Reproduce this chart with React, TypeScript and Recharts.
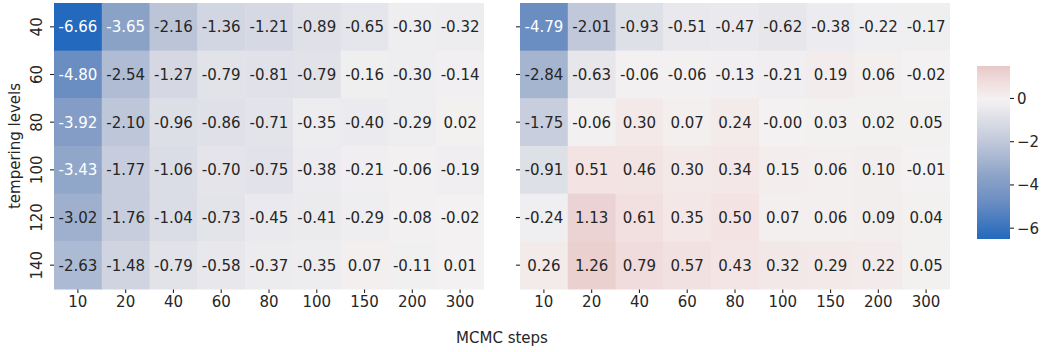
import React from "react"
import {
  ComposedChart,
  ReferenceArea,
  Scatter,
  ScatterChart,
  XAxis,
  YAxis,
} from "recharts"

const steps = ["10", "20", "40", "60", "80", "100", "150", "200", "300"]
const levels = ["40", "60", "80", "100", "120", "140"]

const leftValues = [
  [-6.66, -3.65, -2.16, -1.36, -1.21, -0.89, -0.65, -0.3, -0.32],
  [-4.8, -2.54, -1.27, -0.79, -0.81, -0.79, -0.16, -0.3, -0.14],
  [-3.92, -2.1, -0.96, -0.86, -0.71, -0.35, -0.4, -0.29, 0.02],
  [-3.43, -1.77, -1.06, -0.7, -0.75, -0.38, -0.21, -0.06, -0.19],
  [-3.02, -1.76, -1.04, -0.73, -0.45, -0.41, -0.29, -0.08, -0.02],
  [-2.63, -1.48, -0.79, -0.58, -0.37, -0.35, 0.07, -0.11, 0.01],
]

const rightValues = [
  [-4.79, -2.01, -0.93, -0.51, -0.47, -0.62, -0.38, -0.22, -0.17],
  [-2.84, -0.63, -0.06, -0.06, -0.13, -0.21, 0.19, 0.06, -0.02],
  [-1.75, -0.06, 0.3, 0.07, 0.24, -0.004, 0.03, 0.02, 0.05],
  [-0.91, 0.51, 0.46, 0.3, 0.34, 0.15, 0.06, 0.1, -0.01],
  [-0.24, 1.13, 0.61, 0.35, 0.5, 0.07, 0.06, 0.09, 0.04],
  [0.26, 1.26, 0.79, 0.57, 0.43, 0.32, 0.29, 0.22, 0.05],
]

const colorbarTicks = [-6, -4, -2, 0]
const V_MIN = -6.5
const V_MAX = 1.5

// observed colour stops of the diverging map (value, hex)
const colorStops: [number, string][] = [
  [-6.5, "#2369bd"],
  [-4.8, "#6a8dc2"],
  [-3.5, "#8fa5c8"],
  [-2.1, "#bec6d9"],
  [-1.0, "#dcdee6"],
  [-0.3, "#eeedf0"],
  [0, "#f3f1f1"],
  [0.5, "#f3e3e3"],
  [1.26, "#ebd0d0"],
  [1.5, "#e7c6c6"],
]

const TEXT = "#262626"
const FONT = 15

const hexToRgb = (h: string) => [1, 3, 5].map((i) => parseInt(h.slice(i, i + 2), 16))

function colorFor(v: number) {
  const c = Math.max(V_MIN, Math.min(V_MAX, v))
  for (let i = 0; i < colorStops.length - 1; i++) {
    const [v0, h0] = colorStops[i]
    const [v1, h1] = colorStops[i + 1]
    if (c >= v0 && c <= v1) {
      const t = (c - v0) / (v1 - v0)
      const a = hexToRgb(h0)
      const b = hexToRgb(h1)
      const m = a.map((x, k) => Math.round(x + (b[k] - x) * t))
      return `rgb(${m[0]},${m[1]},${m[2]})`
    }
  }
  return colorStops[colorStops.length - 1][1]
}

const toCells = (values: number[][]) =>
  values.flatMap((row, r) => row.map((value, c) => ({ col: c, row: r, value })))

const CHART_H = 352
const Y_AXIS_W = 54
const PLOT_W = 430
const MARGIN = { top: 3, right: 0, left: 0, bottom: 0 }
const X_AXIS_H = 63
const PLOT_H = CHART_H - MARGIN.top - X_AXIS_H
const CELL_W = PLOT_W / steps.length
const CELL_H = PLOT_H / levels.length

function CellShape(props: any) {
  const { cx, cy, payload } = props
  const v: number = payload.value
  return (
    <g>
      <rect
        x={cx - CELL_W / 2}
        y={cy - CELL_H / 2}
        width={CELL_W + 0.5}
        height={CELL_H + 0.5}
        fill={colorFor(v)}
      />
      <text
        x={cx}
        y={cy}
        dy="0.36em"
        textAnchor="middle"
        fontSize={FONT}
        fill={v < -3.2 ? "#ffffff" : TEXT}
      >
        {v.toFixed(2)}
      </text>
    </g>
  )
}

function YTick(props: any) {
  const { x, y, payload } = props
  return (
    <text
      x={0}
      y={0}
      dy="0.36em"
      textAnchor="middle"
      fontSize={FONT}
      fill={TEXT}
      transform={`translate(${x - 11}, ${y}) rotate(-90)`}
    >
      {levels[payload.value]}
    </text>
  )
}

function Heatmap({ values, showLabels }: { values: number[][]; showLabels: boolean }) {
  return (
    <ScatterChart width={Y_AXIS_W + PLOT_W} height={CHART_H} margin={MARGIN}>
      <XAxis
        type="number"
        dataKey="col"
        domain={[-0.5, steps.length - 0.5]}
        ticks={steps.map((_, i) => i)}
        tickFormatter={(i) => steps[i]}
        height={X_AXIS_H}
        axisLine={false}
        tickSize={4}
        tickMargin={3}
        tickLine={{ stroke: TEXT, strokeWidth: 1.1 }}
        tick={{ fontSize: FONT, fill: TEXT }}
        interval={0}
      />
      <YAxis
        type="number"
        dataKey="row"
        reversed
        domain={[-0.5, levels.length - 0.5]}
        ticks={levels.map((_, i) => i)}
        width={Y_AXIS_W}
        axisLine={false}
        tickSize={4}
        tickLine={{ stroke: TEXT, strokeWidth: 1.1 }}
        tick={showLabels ? <YTick /> : () => <g />}
        interval={0}
        label={
          showLabels
            ? {
                content: (p: any) => (
                  <text
                    x={0}
                    y={0}
                    dy="0.36em"
                    textAnchor="middle"
                    fontSize={FONT}
                    fill={TEXT}
                    transform={`translate(15, ${p.viewBox.y + p.viewBox.height / 2}) rotate(-90)`}
                  >
                    tempering levels
                  </text>
                ),
              }
            : undefined
        }
      />
      <Scatter data={toCells(values)} shape={<CellShape />} isAnimationActive={false} />
    </ScatterChart>
  )
}

const gradientStops = Array.from({ length: 33 }, (_, i) => {
  const v = V_MAX - ((V_MAX - V_MIN) * i) / 32
  return { offset: i / 32, color: colorFor(v) }
})

function Colorbar() {
  return (
    <ComposedChart
      width={83}
      height={CHART_H}
      margin={{ top: 66, right: 0, left: 17, bottom: 113 }}
      data={[{ x: 0 }, { x: 1 }]}
    >
      <defs>
        <linearGradient id="cbar" x1="0" y1="0" x2="0" y2="1">
          {gradientStops.map((s, i) => (
            <stop key={i} offset={s.offset} stopColor={s.color} />
          ))}
        </linearGradient>
      </defs>
      <XAxis type="number" dataKey="x" domain={[0, 1]} hide />
      <YAxis
        type="number"
        orientation="right"
        domain={[V_MIN, V_MAX]}
        ticks={colorbarTicks}
        width={33}
        axisLine={false}
        tickSize={4}
        tickMargin={3}
        tickLine={{ stroke: TEXT, strokeWidth: 1.1 }}
        tick={{ fontSize: FONT, fill: TEXT }}
        tickFormatter={(v) => (v < 0 ? `\u2212${Math.abs(v)}` : `${v}`)}
        allowDataOverflow
      />
      <ReferenceArea x1={0} x2={1} y1={V_MIN} y2={V_MAX} fill="url(#cbar)" fillOpacity={1} stroke="none" />
    </ComposedChart>
  )
}

export default function App() {
  return (
    <div
      style={{
        position: "absolute",
        left: 0,
        top: 0,
        width: 1043,
        height: 352,
        background: "#ffffff",
        fontFamily: "'DejaVu Sans', sans-serif",
      }}
    >
      <div style={{ position: "absolute", left: 0, top: 0 }}>
        <Heatmap values={leftValues} showLabels />
      </div>
      <div style={{ position: "absolute", left: 466, top: 0 }}>
        <Heatmap values={rightValues} showLabels={false} />
      </div>
      <div style={{ position: "absolute", left: 960, top: 0 }}>
        <Colorbar />
      </div>
      <div
        style={{
          position: "absolute",
          left: 0,
          width: 1004,
          top: 329,
          textAlign: "center",
          fontSize: FONT,
          color: TEXT,
        }}
      >
        MCMC steps
      </div>
    </div>
  )
}
